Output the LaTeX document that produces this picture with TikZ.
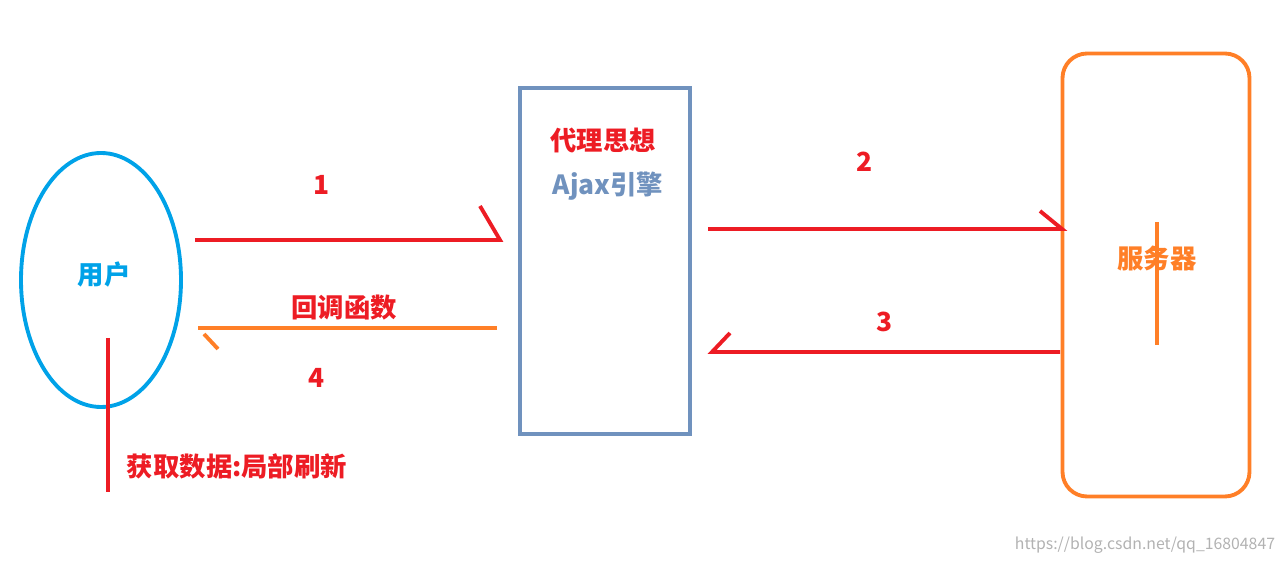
\documentclass[tikz,border=0pt]{standalone}
\usepackage{fontspec}
\setmainfont{Noto Sans CJK SC}
\usetikzlibrary{shapes.geometric, positioning}
\definecolor{usercyan}{RGB}{0,162,232}
\definecolor{engblue}{RGB}{112,146,190}
\definecolor{srvorange}{RGB}{255,127,39}
\definecolor{linered}{RGB}{237,28,36}

\begin{document}
\begin{tikzpicture}
[x=0.02cm, y=-0.02cm,
label/.style={font=\fontsize{15}{18}\selectfont\bfseries, inner sep=0pt},
redline/.style={draw=linered, line width=2.2pt},
orgline/.style={draw=srvorange, line width=2.2pt}
]
    \useasboundingbox (0,0) rectangle (1276,563);
    % user
    \node[ellipse, draw=usercyan, line width=2.2pt, minimum width=160*0.02cm,
          minimum height=254*0.02cm] (user) at (101,280) {};
    \node[label, text=usercyan] (usertext) at (104,275) {用户};
    \coordinate (getA) at (108,338);
    \coordinate (getB) at (108,492);
    \draw[redline] (getA) -- (getB);
    \node[label, text=linered] (gettext) at (237,466) {获取数据:局部刷新};
    % engine
    \node[draw=engblue, line width=2.2pt, minimum width=170*0.02cm,
          minimum height=346*0.02cm, inner sep=0pt] (engine) at (605,261) {};
    \node[label, text=linered] (proxy) at (603,141) {代理思想};
    \node[label, text=engblue] (ajax) at (608,186) {Ajax引擎};
    % server
    \node[draw=srvorange, line width=2.2pt, rounded corners=14pt, minimum width=187*0.02cm,
          minimum height=443*0.02cm, inner sep=0pt] (server) at (1156,275) {};
    \node[label, text=srvorange] (srvtext) at (1157,259) {服务器};
    \coordinate (srvA) at (1157,222);
    \coordinate (srvB) at (1157,345);
    \draw[orgline] (srvA) -- (srvB);
    % 1
    \coordinate (s1) at (195,240);
    \coordinate (e1) at (500,240);
    \coordinate (t1) at (480,206);
    \draw[redline] (s1) -- (e1) -- (t1);
    \node[label, text=linered] (n1) at (322,185) {1};
    % 2
    \coordinate (s2) at (708,229);
    \coordinate (e2) at (1062,229);
    \coordinate (t2) at (1040,211);
    \draw[redline] (s2) -- (e2) -- (t2);
    \node[label, text=linered] (n2) at (865,162) {2};
    % 3
    \coordinate (s3) at (1060,352);
    \coordinate (e3) at (712,352);
    \coordinate (t3) at (730,333);
    \draw[redline] (s3) -- (e3) -- (t3);
    \node[label, text=linered] (n3) at (885,322) {3};
    % 4
    \coordinate (s4) at (497,328);
    \coordinate (e4) at (198,328);
    \coordinate (t4a) at (204,334);
    \coordinate (t4b) at (218,349);
    \draw[orgline] (s4) -- (e4);
    \draw[orgline] (t4a) -- (t4b);
    \node[label, text=linered] (cb) at (344,308) {回调函数};
    \node[label, text=linered] (n4) at (317,378) {4};
    % watermark
    \node[font=\fontsize{9}{11}\selectfont, text=gray!60, inner sep=0pt] (mark) at (1145,545)
        {https://blog.csdn.net/qq\_16804847};
\end{tikzpicture}
\end{document}
